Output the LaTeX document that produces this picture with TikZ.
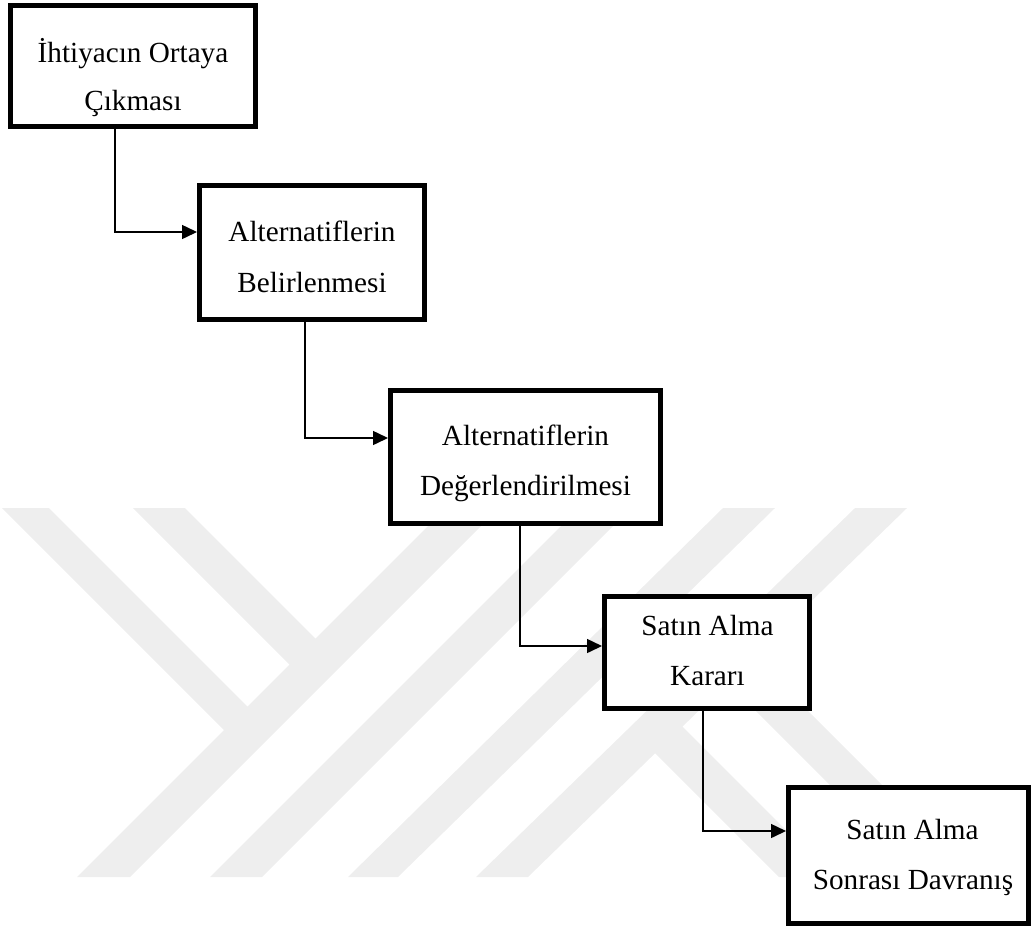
\documentclass[tikz,border=0pt]{standalone}
\usepackage{fontspec}
\setmainfont{Liberation Serif}
\usetikzlibrary{arrows.meta}
\definecolor{wm}{RGB}{238,238,238}
\begin{document}
\begin{tikzpicture}[x=1pt,y=-1pt,
  box/.style={draw=black, line width=5pt, fill=white, inner sep=0pt, line join=miter},
  txt/.style={anchor=base, inner sep=0pt, font=\fontsize{29.2}{35}\selectfont},
  conn/.style={draw=black, line width=1.5pt, -{Triangle[length=15pt,width=14pt]}},
  wmark/.style={fill=wm, draw=none}]
\useasboundingbox (0,0) rectangle (1035,929);
% faint watermark
\fill[wmark] (2,508) -- (49,508) -- (262,721) -- (238,744) -- cycle;
\fill[wmark] (133,508) -- (185,508) -- (330,653) -- (304,679) -- cycle;
\fill[wmark] (77,877) -- (130,877) -- (499,508) -- (446,508) -- cycle;
\fill[wmark] (210,877) -- (262,877) -- (631,508) -- (579,508) -- cycle;
\fill[wmark] (348,877) -- (398,877) -- (775,508) -- (723,508) -- cycle;
\fill[wmark] (476,877) -- (528,877) -- (907,508) -- (855,508) -- cycle;
\fill[wmark] (637,735) -- (663,707) -- (833,877) -- (779,877) -- cycle;
\fill[wmark] (743.5,646.5) -- (974,877) -- (922,877) -- (717.5,672.5) -- cycle;
% boxes
\node[box, minimum width=245pt, minimum height=121pt] (b1) at (133,66) {};
\node[box, minimum width=225pt, minimum height=134pt] (b2) at (312,252.5) {};
\node[box, minimum width=270pt, minimum height=133pt] (b3) at (525.5,457) {};
\node[box, minimum width=205pt, minimum height=112pt] (b4) at (707,652.5) {};
\node[box, minimum width=240pt, minimum height=136pt] (b5) at (908.5,855.5) {};
% texts
\node[txt] (t1a) at (133,62) {İhtiyacın Ortaya};
\node[txt] (t1b) at (133,110) {Çıkması};
\node[txt] (t2a) at (312,241.5) {Alternatiflerin};
\node[txt] (t2b) at (312,292) {Belirlenmesi};
\node[txt] (t3a) at (525.5,445) {Alternatiflerin};
\node[txt] (t3b) at (525.5,495) {Değerlendirilmesi};
\node[txt] (t4a) at (707.5,635) {Satın Alma};
\node[txt] (t4b) at (707.5,685) {Kararı};
\node[txt] (t5a) at (912.5,839) {Satın Alma};
\node[txt] (t5b) at (913,889) {Sonrası Davranış};
% connectors
\draw[conn] ([xshift=-18pt]b1.south) |- ([yshift=20.5pt]b2.west);
\draw[conn] ([xshift=-7pt]b2.south) |- ([yshift=19pt]b3.west);
\draw[conn] ([xshift=-5.5pt]b3.south) |- ([yshift=6.5pt]b4.west);
\draw[conn] ([xshift=-4pt]b4.south) |- ([yshift=24.5pt]b5.west);
\end{tikzpicture}
\end{document}
